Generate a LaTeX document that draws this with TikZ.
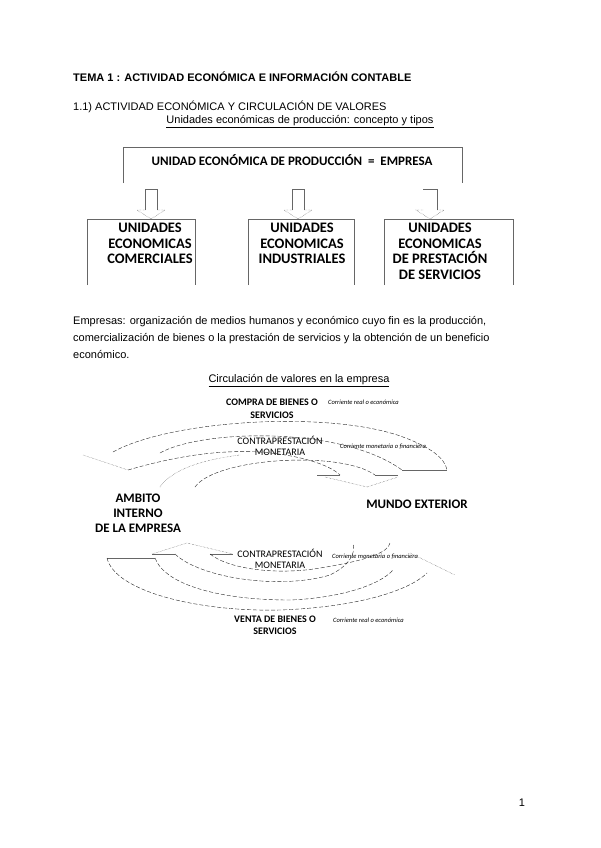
\documentclass[tikz,border=0pt]{standalone}
\usepackage{fontspec}
\setmainfont{Liberation Sans}
\newfontfamily\clb{Carlito}
\usepackage{tikz}
\usetikzlibrary{positioning}

\begin{document}
\begin{tikzpicture}[x=1pt,y=-1pt,every node/.style={inner sep=0pt,align=center},
  txt/.style={font=\fontsize{11}{17}\selectfont},
  boxt/.style={font=\clb\bfseries\fontsize{14.5}{15.5}\selectfont},
  lbl/.style={font=\clb\bfseries\fontsize{10}{12.5}\selectfont},
  big/.style={font=\clb\bfseries\fontsize{13}{15}\selectfont},
  cur/.style={font=\clb\itshape\fontsize{6.5}{8}\selectfont},
  frm/.style={black!60,line width=0.7pt},
  curv/.style={black!85,thin,dash pattern=on 4pt off 2pt},
  dotl/.style={black!75,thin,densely dotted}]
  \useasboundingbox[fill=white] (0,0) rectangle (600,848);

  % headings
  \node[txt,anchor=west] (tema) at (73,77) {\bfseries TEMA 1 : ACTIVIDAD ECONÓMICA E INFORMACIÓN CONTABLE};
  \node[txt,anchor=west] (sec) at (73,107) {1.1) ACTIVIDAD ECONÓMICA Y CIRCULACIÓN DE VALORES};
  \node[txt] (sub) at (300,122) {\underline{Unidades económicas de producción: concepto y tipos}};

  % empresa and its three kinds
  \draw[frm] (123,183) -- (123,147) -- (462,147) -- (462,183);
  \node[boxt,font=\clb\bfseries\fontsize{13}{15}\selectfont] (emp) at (292,160) {UNIDAD ECONÓMICA DE PRODUCCIÓN \ = \ EMPRESA};
  \foreach \x in {151,298}{
    \draw[frm] (\x-6,210) -- (\x-6,189) -- (\x+6,189) -- (\x+6,210);
    \draw[dotl] (\x-6,210) -- (\x-14,210) -- (\x,219) -- (\x+14,210) -- (\x+6,210);
  }
  \draw[frm] (423,189) -- (437,189) -- (437,210);
  \draw[dotl] (423,210) -- (416,210) -- (430,219) -- (444,210) -- (437,210);
  \draw[frm] (87,285) -- (87,219) -- (195,219) -- (195,285);
  \draw[frm] (248,285) -- (248,219) -- (354,219) -- (354,285);
  \draw[frm] (384,285) -- (384,219) -- (513,219) -- (513,285);
  \node[boxt,anchor=north] (com) at (150,223) {UNIDADES\\ECONOMICAS\\COMERCIALES};
  \node[boxt,anchor=north] (ind) at (302,223) {UNIDADES\\ECONOMICAS\\INDUSTRIALES};
  \node[boxt,anchor=north] (serv) at (440,223) {UNIDADES\\ECONOMICAS\\DE PRESTACIÓN\\DE SERVICIOS};

  \node[txt,anchor=west,align=left] (def) at (73,338) {Empresas: organización de medios humanos y económico cuyo fin es la producción,\\comercialización de bienes o la prestación de servicios y la obtención de un beneficio\\económico.};

  % circulacion de valores
  \node[txt] (circ) at (299,381) {\underline{Circulación de valores en la empresa}};
  \node[lbl] (compra) at (272,409) {COMPRA DE BIENES O\\SERVICIOS};
  \node[cur,anchor=west] (cr1) at (328,402) {Corriente real o económica};
  \node[lbl,font=\clb\fontsize{10}{11.5}\selectfont] (contra1) at (280,446) {CONTRAPRESTACIÓN\\MONETARIA};
  \node[cur,anchor=west] (cm1) at (340,447) {Corriente monetaria o financiera};
  \node[big] (amb) at (138,513) {AMBITO\\INTERNO\\DE LA EMPRESA};
  \node[big] (mundo) at (417,504) {MUNDO EXTERIOR};
  \node[lbl,font=\clb\fontsize{10}{11.5}\selectfont] (contra2) at (280,559) {CONTRAPRESTACIÓN\\MONETARIA};
  \node[cur,anchor=west] (cm2) at (332,557) {Corriente monetaria o financiera};
  \node[lbl] (venta) at (275,625) {VENTA DE BIENES O\\SERVICIOS};
  \node[cur,anchor=west] (cr2) at (333,620) {Corriente real o económica};

  % upper arrows
  \draw[curv] (113,452) .. controls (170,420) and (330,410) .. (403,437) .. controls (430,447) and (445,458) .. (447,470);
  \draw[frm] (402,470) -- (447,470);
  \draw[curv] (160,453) .. controls (200,430) and (340,425) .. (402,470);
  \draw[dotl] (83,455) -- (128,470);
  \draw[curv] (128,470) .. controls (180,455) and (220,450) .. (260,452) .. controls (300,455) and (330,465) .. (340,475);
  \draw[frm] (317,475) -- (340,475);
  \draw[dotl] (325,477) -- (367,487) -- (398,477);
  \draw[frm] (375,475) -- (398,475);
  \draw[curv] (195,487) .. controls (215,458) and (340,450) .. (375,475);
  \draw[dotl] (160,487) .. controls (172,470) and (200,460) .. (240,455);

  % lower arrows
  \draw[dotl] (152,554) -- (187,543) -- (233,554);
  \draw[frm] (152,554) -- (175,554);
  \draw[frm] (210,554) -- (233,554);
  \draw[curv] (175,554) .. controls (200,578) and (280,590) .. (330,575) .. controls (348,566) and (356,555) .. (353,543);
  \draw[curv] (210,554) .. controls (230,570) and (280,575) .. (320,568) .. controls (370,560) and (388,552) .. (390,543);
  \draw[frm] (107,558) -- (155,558);
  \draw[curv] (107,558) .. controls (115,592) and (200,612) .. (280,610) .. controls (360,607) and (410,590) .. (427,573);
  \draw[curv] (155,558) .. controls (165,585) and (220,600) .. (290,600) .. controls (340,598) and (380,585) .. (393,570);
  \draw[dotl] (410,553) -- (455,575);

  \node[txt] (pag) at (522,803) {1};
\end{tikzpicture}
\end{document}
